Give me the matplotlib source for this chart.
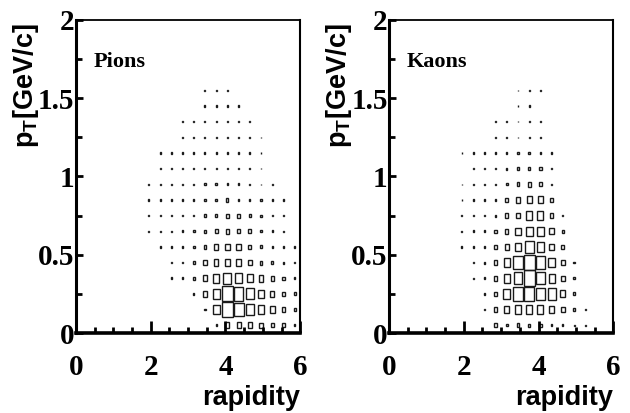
import numpy as np
import matplotlib
matplotlib.use('Agg')
import matplotlib.pyplot as plt
from matplotlib.patches import Rectangle
from matplotlib.ticker import MultipleLocator, FuncFormatter

# bin centres (rapidity bins 0.3 wide, pT bins 0.1 wide)
rapidity = [1.95, 2.25, 2.55, 2.85, 3.15, 3.45, 3.75, 4.05, 4.35, 4.65, 4.95, 5.25, 5.55, 5.85]
pt = [0.05, 0.15, 0.25, 0.35, 0.45, 0.55, 0.65, 0.75, 0.85, 0.95, 1.05, 1.15, 1.25, 1.35, 1.45, 1.55]

# box size in % of the largest box, rows = pT bins, cols = rapidity bins
pions = [
    [0, 0, 0, 0, 0, 0, 10, 38, 35, 35, 33, 28, 22, 15],
    [0, 0, 0, 0, 0, 12, 60, 100, 88, 75, 62, 42, 30, 20],
    [0, 0, 0, 0, 12, 35, 65, 95, 85, 70, 50, 35, 25, 20],
    [0, 0, 10, 10, 20, 35, 55, 70, 62, 52, 42, 30, 20, 15],
    [0, 0, 8, 10, 20, 30, 40, 50, 45, 35, 25, 20, 12, 10],
    [0, 8, 8, 10, 15, 25, 38, 40, 38, 28, 20, 10, 8, 8],
    [8, 8, 8, 10, 15, 20, 28, 30, 28, 25, 15, 10, 8, 0],
    [8, 8, 8, 10, 10, 15, 20, 25, 25, 20, 12, 10, 8, 0],
    [8, 8, 8, 8, 10, 12, 18, 20, 15, 12, 10, 8, 8, 0],
    [7, 8, 8, 8, 10, 12, 13, 15, 12, 10, 8, 7, 0, 0],
    [0, 8, 8, 8, 8, 10, 10, 10, 8, 8, 8, 0, 0, 0],
    [0, 10, 10, 10, 10, 10, 10, 10, 10, 10, 8, 0, 0, 0],
    [0, 0, 0, 8, 8, 8, 8, 8, 8, 8, 8, 0, 0, 0],
    [0, 0, 0, 8, 8, 8, 8, 8, 8, 8, 0, 0, 0, 0],
    [0, 0, 0, 0, 0, 8, 8, 8, 8, 0, 0, 0, 0, 0],
    [0, 0, 0, 0, 0, 8, 8, 8, 0, 0, 0, 0, 0, 0],
]

kaons = [
    [0, 0, 0, 28, 15, 22, 18, 20, 12, 10, 8, 8, 0, 0],
    [0, 0, 10, 30, 45, 52, 58, 55, 47, 32, 20, 10, 0, 0],
    [0, 0, 10, 30, 60, 85, 85, 80, 72, 45, 20, 0, 0, 0],
    [0, 8, 12, 30, 55, 80, 100, 80, 55, 30, 10, 0, 0, 0],
    [0, 8, 12, 30, 55, 85, 100, 85, 60, 30, 10, 0, 0, 0],
    [8, 8, 10, 25, 35, 52, 78, 62, 40, 25, 0, 0, 0, 0],
    [8, 10, 10, 20, 30, 45, 60, 60, 40, 20, 0, 0, 0, 0],
    [8, 10, 10, 12, 30, 35, 55, 55, 30, 10, 0, 0, 0, 0],
    [7, 8, 8, 15, 25, 35, 45, 45, 25, 0, 0, 0, 0, 0],
    [7, 7, 8, 10, 15, 25, 30, 28, 10, 0, 0, 0, 0, 0],
    [0, 8, 8, 8, 12, 18, 22, 22, 8, 0, 0, 0, 0, 0],
    [7, 7, 7, 8, 12, 15, 15, 12, 8, 0, 0, 0, 0, 0],
    [0, 0, 0, 8, 8, 8, 8, 8, 0, 0, 0, 0, 0, 0],
    [0, 0, 0, 8, 8, 8, 8, 8, 0, 0, 0, 0, 0, 0],
    [0, 0, 0, 0, 0, 8, 8, 0, 0, 0, 0, 0, 0, 0],
    [0, 0, 0, 0, 0, 8, 8, 8, 0, 0, 0, 0, 0, 0],
]

panels = [('Pions', pions), ('Kaons', kaons)]
dx, dy = 0.3, 0.1

plt.rcParams['font.family'] = 'Liberation Serif'
plt.rcParams['font.weight'] = 'bold'
plt.rcParams['mathtext.fontset'] = 'custom'
plt.rcParams['mathtext.rm'] = 'Liberation Sans:bold'
plt.rcParams['mathtext.bf'] = 'Liberation Sans:bold'

fig = plt.figure(figsize=(6.3, 4.13), dpi=100)
lefts = [0.1206, 0.6175]

for (name, sizes), left in zip(panels, lefts):
    ax = fig.add_axes([left, 0.1937, 0.356, 0.758])
    sizes = np.array(sizes) / 100.0
    for j, y in enumerate(pt):
        for k, x in enumerate(rapidity):
            f = sizes[j, k]
            if f <= 0:
                continue
            w, h = f * dx, f * dy
            ax.add_patch(Rectangle((x - w / 2, y - h / 2), w, h,
                                   fill=False, edgecolor='0.1', lw=1.0))
    ax.set_xlim(0, 6)
    ax.set_ylim(0, 2)

    # ROOT-like frame and ticks
    for side, lw in [('left', 2.2), ('bottom', 2.6), ('top', 1.3), ('right', 1.5)]:
        ax.spines[side].set_linewidth(lw)
    ax.xaxis.set_major_locator(MultipleLocator(2))
    ax.xaxis.set_minor_locator(MultipleLocator(0.5))
    ax.yaxis.set_major_locator(MultipleLocator(0.5))
    ax.yaxis.set_minor_locator(MultipleLocator(0.25))
    fmt = FuncFormatter(lambda v, p: '%g' % v)
    ax.xaxis.set_major_formatter(fmt)
    ax.yaxis.set_major_formatter(fmt)
    ax.tick_params(which='both', direction='in', width=2)
    ax.tick_params(which='major', length=9, labelsize=21)
    ax.tick_params(which='minor', length=4)
    ax.tick_params(axis='x', which='major', pad=15)
    ax.tick_params(axis='y', which='major', pad=1, length=5)

    ax.set_xlabel('rapidity', loc='right', fontsize=19.5,
                  family='Liberation Sans', fontweight='bold')
    ax.xaxis.set_label_coords(1.0, -0.165)
    ax.set_ylabel(r'p$_{\mathrm{T}}$[GeV/c]', loc='top', fontsize=19.5,
                  family='Liberation Sans', fontweight='bold')
    ax.yaxis.set_label_coords(-0.155, 0.99)

    ax.text(0.08, 0.866, name, transform=ax.transAxes, fontsize=16,
            fontweight='bold', va='center', ha='left')

fig.savefig('out.png', dpi=100)
